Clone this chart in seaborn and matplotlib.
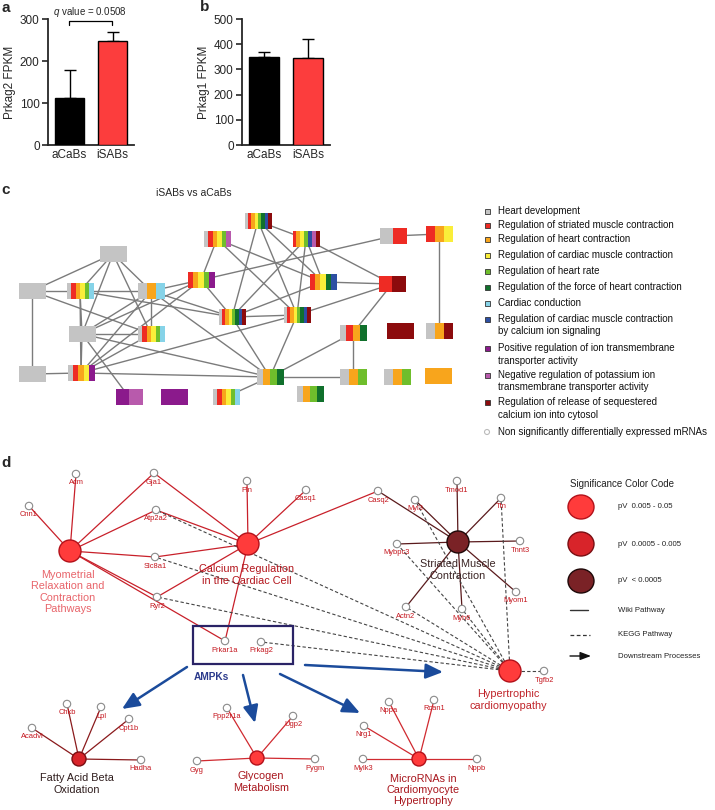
import matplotlib
matplotlib.use('Agg')
import matplotlib.pyplot as plt
import seaborn as sns
import pandas as pd
from matplotlib.patches import Rectangle, Circle, Ellipse

# ---------------- panels a & b data ----------------
groups = ['aCaBs', 'iSABs']
prkag2_fpkm = [112, 248]
prkag2_err = [66, 22]
prkag1_fpkm = [348, 346]
prkag1_err = [22, 74]
bar_palette = ['#000000', '#fc3d3d']
a_yticks = [0, 100, 200, 300]
b_yticks = [0, 100, 200, 300, 400, 500]

# ---------------- panel c data ----------------
c_title = 'iSABs vs aCaBs'
c_node_x = [258, 217, 306, 393, 439, 113, 32, 80, 151, 201, 323, 392, 232, 297, 82,
            151, 353, 400, 439, 32, 81, 270, 353, 397, 438, 129, 174, 226, 310]
c_node_y = [221, 239, 239, 236, 234, 254, 291, 291, 291, 280, 282, 284, 317, 315, 334,
            334, 333, 331, 331, 374, 373, 377, 377, 377, 376, 397, 397, 397, 394]
c_node_codes = ['groyldbk', 'groylm', 'roylbmk', 'gr', 'roy', 'g', 'g', 'groylc', 'goc',
                'roylp', 'roydb', 'rk', 'groyldbk', 'groyldbk', 'g', 'groylc', 'grod', 'k',
                'gok', 'g', 'groyp', 'gold', 'gol', 'gol', 'o', 'pm', 'p', 'groylc', 'gold']
c_edges = [(6, 7), (6, 8), (6, 9), (6, 15), (6, 16), (7, 8), (7, 20), (7, 16), (8, 9), (8, 15),
           (8, 21), (8, 13), (9, 10), (9, 16), (9, 15), (9, 21), (9, 13), (9, 22), (10, 2),
           (10, 13), (10, 15), (10, 4), (10, 21), (2, 11), (2, 14), (1, 3), (1, 13), (1, 14),
           (1, 11), (3, 11), (3, 14), (3, 13), (3, 12), (11, 12), (11, 13), (12, 14), (12, 17),
           (4, 5), (5, 19), (13, 14), (13, 22), (14, 22), (15, 16), (15, 21), (15, 22),
           (21, 14), (15, 26), (16, 21), (20, 21), (21, 22), (17, 23), (17, 22), (22, 23),
           (22, 28)]
c_color_map = {'g': '#c4c4c4', 'r': '#ee2b24', 'o': '#f8a51c', 'y': '#faee3a',
               'l': '#6fbe2c', 'd': '#10702c', 'c': '#86d3e8', 'b': '#2d4fa3',
               'p': '#8b1a8c', 'm': '#b85aac', 'k': '#8c0b0d'}
c_legend_labels = ['Heart development', 'Regulation of striated muscle contraction',
                   'Regulation of heart contraction', 'Regulation of cardiac muscle contraction',
                   'Regulation of heart rate', 'Regulation of the force of heart contraction',
                   'Cardiac conduction',
                   'Regulation of cardiac muscle contraction\nby calcium ion signaling',
                   'Positive regulation of ion transmembrane\ntransporter activity',
                   'Negative regulation of potassium ion\ntransmembrane transporter activity',
                   'Regulation of release of sequestered\ncalcium ion into cytosol',
                   'Non significantly differentially expressed mRNAs']
c_legend_codes = ['g', 'r', 'o', 'y', 'l', 'd', 'c', 'b', 'p', 'm', 'k', None]
c_legend_y = [211, 225, 239, 255, 271, 287, 303, 319, 348, 375, 402, 432]

# ---------------- panel d data ----------------
d_hub_names = ['Myometrial\nRelaxation and\nContraction\nPathways',
               'Calcium Regulation\nin the Cardiac Cell', 'Striated Muscle\nContraction',
               'Hypertrophic\ncardiomyopathy', 'Fatty Acid Beta\nOxidation',
               'Glycogen\nMetabolism', 'MicroRNAs in\nCardiomyocyte\nHypertrophy']
d_hub_x = [70, 248, 458, 510, 79, 257, 419]
d_hub_y = [551, 544, 542, 671, 759, 758, 759]
d_hub_r = [11, 11, 11, 11, 7, 7, 7]
d_hub_level = [0, 0, 2, 0, 1, 0, 0]
d_hub_label_x = [68, 247, 458, 508, 77, 261, 423]
d_hub_label_y = [592, 575, 570, 700, 784, 782, 790]
d_hub_label_color = ['#e8646a', '#b3151c', '#3a2424', '#c0242a', '#2e1c1c', '#a8151c', '#a8151c']
d_hub_edge_color = ['#c8202a', '#c8202a', '#5a1a1c', '#444444', '#8a1a1c', '#d02a30', '#d02a30']

d_gene_names = ['Cnn1', 'Acm', 'Gja1', 'Atp2a2', 'Slc8a1', 'Ryr2', 'Pln', 'Casq1', 'Casq2',
                'Myl3', 'Tmod1', 'Ttn', 'Tnnt3', 'Mybpc3', 'Myom1', 'Actn2', 'Myh6', 'Tgfb2',
                'Prkar1a', 'Prkag2', 'Chkb', 'Lpl', 'Cpt1b', 'Acadvl', 'Hadha', 'Ppp2r1a',
                'Ugp2', 'Gyg', 'Pygm', 'Nppa', 'Rcan1', 'Nrg1', 'Mylk3', 'Nppb']
d_gene_x = [29, 76, 154, 156, 155, 157, 247, 306, 378, 415, 457, 501, 520, 397, 516, 406,
            462, 544, 225, 261, 67, 101, 129, 32, 141, 227, 293, 197, 315, 389, 434, 364,
            363, 477]
d_gene_y = [506, 474, 473, 510, 557, 597, 481, 490, 491, 500, 481, 498, 541, 544, 592, 607,
            609, 671, 641, 642, 704, 707, 719, 728, 760, 708, 716, 761, 759, 702, 700, 726,
            759, 759]
d_wiki_edges = [(0, 'Cnn1'), (0, 'Acm'), (0, 'Gja1'), (0, 'Atp2a2'), (0, 'Slc8a1'), (0, 'Ryr2'),
                (0, 'Prkar1a'), (1, 'Gja1'), (1, 'Atp2a2'), (1, 'Slc8a1'), (1, 'Ryr2'),
                (1, 'Pln'), (1, 'Casq1'), (1, 'Casq2'), (1, 'Prkar1a'), (2, 'Casq2'),
                (2, 'Myl3'), (2, 'Tmod1'), (2, 'Ttn'), (2, 'Tnnt3'), (2, 'Mybpc3'),
                (2, 'Myom1'), (2, 'Actn2'), (2, 'Myh6'), (4, 'Chkb'), (4, 'Lpl'),
                (4, 'Cpt1b'), (4, 'Acadvl'), (4, 'Hadha'), (5, 'Ppp2r1a'), (5, 'Ugp2'),
                (5, 'Gyg'), (5, 'Pygm'), (6, 'Nppa'), (6, 'Rcan1'), (6, 'Nrg1'),
                (6, 'Mylk3'), (6, 'Nppb')]
d_kegg_edges = [(3, 'Atp2a2'), (3, 'Slc8a1'), (3, 'Ryr2'), (3, 'Prkag2'), (3, 'Myl3'),
                (3, 'Mybpc3'), (3, 'Myh6'), (3, 'Ttn'), (3, 'Tgfb2'), (3, 'Actn2')]
d_arrow_start = [(187, 667), (243, 675), (280, 674), (305, 665)]
d_arrow_end = [(122, 709), (255, 723), (360, 713), (443, 672)]
sig_fill = ['#ff3b3b', '#d8242a', '#7a2226']
sig_edge = ['#b3111a', '#7a0e12', '#1e0808']
sig_labels = ['pV  0.005 - 0.05', 'pV  0.0005 - 0.005', 'pV  < 0.0005']
sig_y = [507, 544, 581]
line_legend_labels = ['Wiki Pathway', 'KEGG Pathway', 'Downstream Processes']
line_legend_y = [610, 635, 656]

# ---------------- style ----------------
sns.set_style('ticks')
plt.rcParams['font.family'] = ['Liberation Sans', 'DejaVu Sans']
plt.rcParams['mathtext.fontset'] = 'custom'
plt.rcParams['mathtext.it'] = 'Liberation Sans:italic'
plt.rcParams['mathtext.rm'] = 'Liberation Sans'

W, H = 715, 810
fig = plt.figure(figsize=(W / 100, H / 100), dpi=100)
fig.patch.set_facecolor('white')
canvas = fig.add_axes([0, 0, 1, 1])
canvas.set_xlim(0, W)
canvas.set_ylim(H, 0)
canvas.axis('off')


def px_axes(l, t, r, b):
    return fig.add_axes([l / W, 1 - b / H, (r - l) / W, (b - t) / H])


def bar_panel(ax, vals, errs, ylim, yticks, ylabel, width):
    df = pd.DataFrame({'group': groups, 'value': vals})
    sns.barplot(data=df, x='group', y='value', hue='group', palette=bar_palette,
                saturation=1, width=width, edgecolor='black', linewidth=1.0,
                errorbar=None, legend=False, ax=ax, zorder=3)
    ax.errorbar(x=[0, 1], y=vals, yerr=[[0, 0], errs], fmt='none', ecolor='black',
                elinewidth=1.0, capsize=4, capthick=1.0, zorder=2)
    ax.set_xlim(-0.5, 1.5)
    ax.set_ylim(*ylim)
    ax.set_yticks(yticks)
    ax.set_xlabel('')
    ax.set_ylabel(ylabel, fontsize=8.5, labelpad=3)
    sns.despine(ax=ax)
    for s in ['left', 'bottom']:
        ax.spines[s].set_linewidth(1.3)
    ax.tick_params(axis='y', length=4, width=1.2, labelsize=8.5, pad=2)
    ax.tick_params(axis='x', length=0, labelsize=8.5, pad=3)
    ax.patch.set_alpha(0)


ax_a = px_axes(48, 19, 134, 145)
bar_panel(ax_a, prkag2_fpkm, prkag2_err, (0, 300), a_yticks, 'Prkag2 FPKM', 0.67)
ax_b = px_axes(242, 19, 330, 145)
bar_panel(ax_b, prkag1_fpkm, prkag1_err, (0, 500), b_yticks, 'Prkag1 FPKM', 0.7)

# q value bracket
canvas.plot([69, 69, 112, 112], [25, 21, 21, 25], color='black', lw=0.9)
canvas.text(90, 12, r'$\it{q}$ value = 0.0508', ha='center', va='center', fontsize=7)

# panel letters
for lab, x, y in [('a', 1, 8), ('b', 200, 7), ('c', 1, 190), ('d', 1, 463)]:
    canvas.text(x, y, lab, fontsize=11, fontweight='bold', ha='left', va='center')

# ---------------- panel c ----------------
canvas.text(194, 193, c_title, ha='center', va='center', fontsize=7.5)
for a, b in c_edges:
    canvas.plot([c_node_x[a - 1], c_node_x[b - 1]], [c_node_y[a - 1], c_node_y[b - 1]],
                color='#7b7b7b', lw=1.0, zorder=1)
nw, nh = 27, 16
for x, y, code in zip(c_node_x, c_node_y, c_node_codes):
    sw = nw / len(code)
    for i, ch in enumerate(code):
        canvas.add_patch(Rectangle((x - nw / 2 + i * sw, y - nh / 2), sw, nh,
                                   facecolor=c_color_map[ch], edgecolor='none', zorder=3))
for lab, code, y in zip(c_legend_labels, c_legend_codes, c_legend_y):
    if code is None:
        canvas.add_patch(Circle((487, y), 2.5, facecolor='white', edgecolor='#bbbbbb',
                                lw=0.8, zorder=3))
    else:
        canvas.add_patch(Rectangle((484.5, y - 2.5), 5, 5, facecolor=c_color_map[code],
                                   edgecolor='#333333', lw=0.6, zorder=3))
    for i, line in enumerate(lab.split('\n')):
        canvas.text(498, y + i * 12.5, line, ha='left', va='center', fontsize=7.0,
                    color='#111111')

# ---------------- panel d ----------------
gene_pos = {n: (x, y) for n, x, y in zip(d_gene_names, d_gene_x, d_gene_y)}
for h, g in d_wiki_edges:
    gx, gy = gene_pos[g]
    canvas.plot([d_hub_x[h], gx], [d_hub_y[h], gy], color=d_hub_edge_color[h], lw=0.9,
                zorder=1)
for h, g in d_kegg_edges:
    gx, gy = gene_pos[g]
    canvas.plot([d_hub_x[h], gx], [d_hub_y[h], gy], color='#444444', lw=0.8,
                dashes=(3, 2), zorder=1)

# AMPK box
canvas.add_patch(Rectangle((193, 626), 100, 38, facecolor='none', edgecolor='#2a2366',
                           lw=1.6, zorder=2))
canvas.text(211, 677, 'AMPKs', ha='center', va='center', fontsize=7.3, fontweight='bold',
            color='#2b3a8c')

for (sx, sy), (ex, ey) in zip(d_arrow_start, d_arrow_end):
    canvas.annotate('', xy=(ex, ey), xytext=(sx, sy),
                    arrowprops=dict(arrowstyle='-|>,head_length=0.8,head_width=0.35',
                                    mutation_scale=13, color='#1b4b9b', lw=1.8,
                                    shrinkA=0, shrinkB=0), zorder=2)

for n, x, y in zip(d_gene_names, d_gene_x, d_gene_y):
    canvas.add_patch(Circle((x, y), 3.7, facecolor='white', edgecolor='#8a8a8a', lw=0.8,
                            zorder=3))
    canvas.text(x, y + 9, n, ha='center', va='center', fontsize=5.4, color='#c4141c',
                zorder=4)

for name, x, y, r, lv, lx, ly, lc in zip(d_hub_names, d_hub_x, d_hub_y, d_hub_r,
                                         d_hub_level, d_hub_label_x, d_hub_label_y,
                                         d_hub_label_color):
    canvas.add_patch(Circle((x, y), r, facecolor=sig_fill[lv], edgecolor=sig_edge[lv],
                            lw=1.0, zorder=3))
    canvas.text(lx, ly, name, ha='center', va='center', fontsize=7.8, color=lc,
                linespacing=1.15, zorder=4)

# significance legend
canvas.text(570, 484, 'Significance Color Code', ha='left', va='center', fontsize=7,
            color='#222222')
for lv, (lab, y) in enumerate(zip(sig_labels, sig_y)):
    canvas.add_patch(Ellipse((581, y), 26, 24, facecolor=sig_fill[lv], edgecolor=sig_edge[lv],
                             lw=1.0, zorder=3))
    canvas.text(618, y, lab, ha='left', va='center', fontsize=5.6, color='#222222')
canvas.plot([570, 588], [line_legend_y[0]] * 2, color='#333333', lw=1.0)
canvas.plot([570, 590], [line_legend_y[1]] * 2, color='#333333', lw=0.9, dashes=(3, 2))
canvas.annotate('', xy=(591, line_legend_y[2]), xytext=(570, line_legend_y[2]),
                arrowprops=dict(arrowstyle='-|>,head_length=0.8,head_width=0.3',
                                mutation_scale=8, color='#111111', lw=1.0,
                                shrinkA=0, shrinkB=0))
for lab, y in zip(line_legend_labels, line_legend_y):
    canvas.text(618, y, lab, ha='left', va='center', fontsize=5.6, color='#222222')

fig.savefig('out.png', dpi=100, facecolor='white')
